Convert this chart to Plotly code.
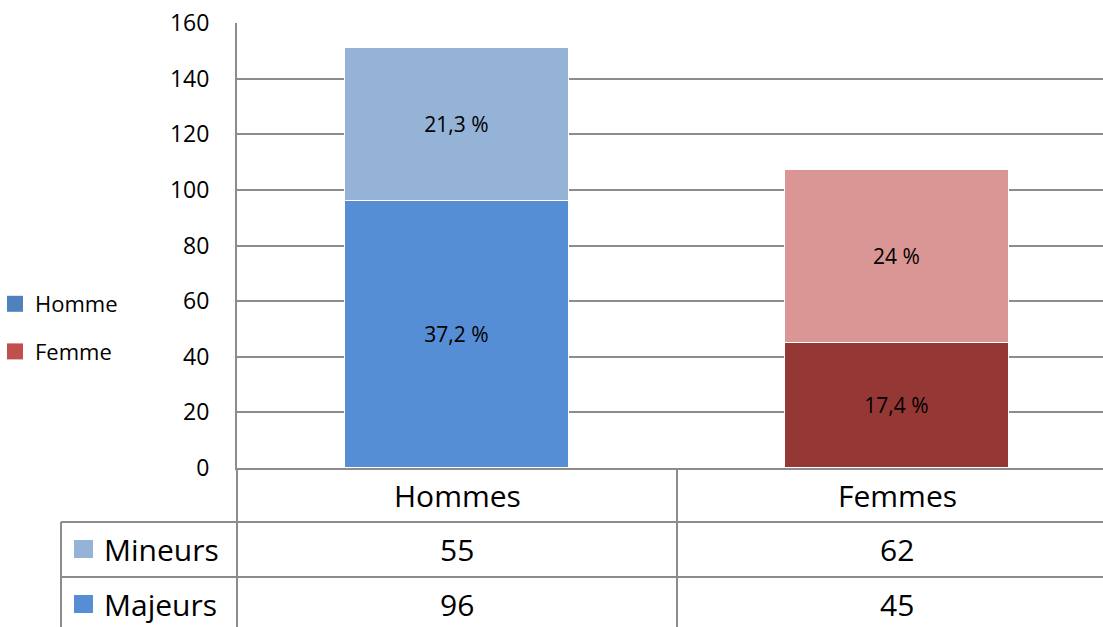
import plotly.graph_objects as go

categories = ["Hommes", "Femmes"]
majeurs = [96, 45]
mineurs = [55, 62]
majeurs_pct = ["37,2 %", "17,4 %"]
mineurs_pct = ["21,3 %", "24 %"]
row_names = ["Mineurs", "Majeurs"]
legend_names = ["Homme", "Femme"]
y_ticks = [0, 20, 40, 60, 80, 100, 120, 140, 160]

col_maj = ["#558ED5", "#953735"]
col_min = ["#95B3D7", "#D99694"]
legend_cols = ["#4F81BD", "#C0504D"]
row_square_cols = ["#95B3D7", "#558ED5"]

W, H = 1103, 627
ML, MR, MT, MB = 237, 0, 23, 159
PW, PH = W - ML - MR, H - MT - MB
LINE = "#8c8c8c"
FONT = "Open Sans"


def px_x(p):
    return (p - ML) / PW


def px_y(p):
    return (H - MB - p) / PH


fig = go.Figure()
fig.add_trace(go.Bar(
    x=categories, y=majeurs, text=majeurs_pct, name="Majeurs",
    marker=dict(color=col_maj, line=dict(color="white", width=1)),
    width=0.51, textposition="inside", insidetextanchor="middle",
    textfont=dict(family=FONT, size=21, color="black"),
    showlegend=False, constraintext="none", textangle=0))
fig.add_trace(go.Bar(
    x=categories, y=mineurs, text=mineurs_pct, name="Mineurs",
    marker=dict(color=col_min, line=dict(color="white", width=1)),
    width=0.51, textposition="inside", insidetextanchor="middle",
    textfont=dict(family=FONT, size=21, color="black"),
    showlegend=False, constraintext="none", textangle=0))
for nm, c in zip(legend_names, legend_cols):
    fig.add_trace(go.Scatter(x=[None], y=[None], name=nm, mode="markers",
                             marker=dict(color=c, symbol="square", size=16),
                             legendgroup=nm, showlegend=True))

shapes = []
shapes.append(dict(type="line", xref="paper", yref="paper", x0=0, x1=0,
                   y0=0, y1=px_y(H + 5), line=dict(color=LINE, width=2)))
shapes.append(dict(type="line", xref="x", yref="paper", x0=0.5, x1=0.5,
                   y0=0, y1=px_y(H + 5), line=dict(color=LINE, width=2)))
for py in (522, 577):
    shapes.append(dict(type="line", xref="paper", yref="paper", x0=px_x(61), x1=1,
                       y0=px_y(py), y1=px_y(py), line=dict(color=LINE, width=2)))
shapes.append(dict(type="line", xref="paper", yref="paper", x0=px_x(61), x1=px_x(61),
                   y0=px_y(522), y1=px_y(H + 5), line=dict(color=LINE, width=2)))

annotations = []
header_y = px_y(495)
row_y = [px_y(549), px_y(604)]
for c in categories:
    annotations.append(dict(x=c, y=header_y, xref="x", yref="paper", text=c,
                            showarrow=False, font=dict(family=FONT, size=30, color="black"),
                            xanchor="center", yanchor="middle"))
for ri, (rname, vals) in enumerate(zip(row_names, [mineurs, majeurs])):
    annotations.append(dict(x=px_x(102), y=row_y[ri], xref="paper", yref="paper",
                            text=rname, showarrow=False,
                            font=dict(family=FONT, size=30, color="black"),
                            xanchor="left", yanchor="middle"))
    shapes.append(dict(type="rect", xref="paper", yref="paper",
                       x0=px_x(74), x1=px_x(93),
                       y0=row_y[ri] + 9 / PH, y1=row_y[ri] - 9 / PH,
                       fillcolor=row_square_cols[ri], line=dict(width=0)))
    for c, v in zip(categories, vals):
        annotations.append(dict(x=c, y=row_y[ri], xref="x", yref="paper", text=str(v),
                                showarrow=False, font=dict(family=FONT, size=30, color="black"),
                                xanchor="center", yanchor="middle"))

fig.update_layout(
    width=W, height=H, autosize=False,
    margin=dict(l=ML, r=MR, t=MT, b=MB, pad=0, autoexpand=False),
    paper_bgcolor="white", plot_bgcolor="white",
    barmode="stack", bargap=0,
    font=dict(family=FONT, color="black"),
    shapes=shapes, annotations=annotations,
    legend=dict(x=px_x(-5), y=px_y(328), xanchor="left", yanchor="middle",
                font=dict(family=FONT, size=22, color="black"),
                tracegroupgap=16, bgcolor="rgba(0,0,0,0)", itemwidth=30),
    xaxis=dict(type="category", range=[-0.5, -0.5 + PW / 440.0], showgrid=False,
               showticklabels=False, ticks="", showline=True, linecolor=LINE,
               linewidth=2, zeroline=False, fixedrange=True),
    yaxis=dict(range=[0, 160], tickvals=y_ticks, showgrid=True, gridcolor=LINE,
               gridwidth=1.5, showline=True, linecolor=LINE, linewidth=2,
               zeroline=False, ticks="", ticklabelstandoff=21,
               tickfont=dict(family=FONT, size=23, color="black"), fixedrange=True),
)

fig.write_html("out.html", config={"displayModeBar": False})
with open("out.html", encoding="utf-8") as f:
    html = f.read()
html = html.replace("<head>", "<head><style>html,body{margin:0;padding:0;}</style>", 1)
with open("out.html", "w", encoding="utf-8") as f:
    f.write(html)
